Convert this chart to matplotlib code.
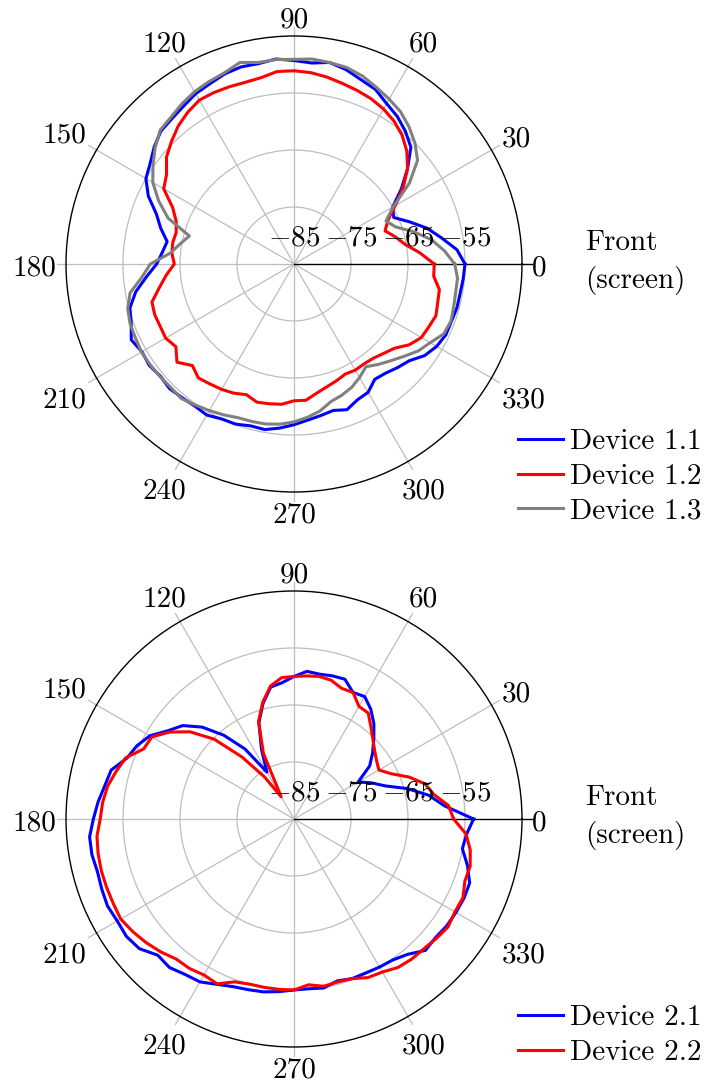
import numpy as np
import matplotlib
matplotlib.use("Agg")
import matplotlib.pyplot as plt
from matplotlib.transforms import ScaledTranslation

plt.rcParams["font.family"] = "cmr10"
plt.rcParams["mathtext.fontset"] = "cm"
plt.rcParams["axes.unicode_minus"] = False

# Measurement angles (degrees) shared by all series
angles = list(range(0, 360, 5))

# Received level (dB) per angle
device_1_1 = [-55.0, -56.3, -58.7, -60.8, -63.4, -65.7, -65.0, -62.0, -59.0, -56.0,
              -54.6, -53.4, -52.5, -51.2, -50.6, -49.7, -49.1, -49.6, -49.3, -48.9,
              -49.3, -49.2, -49.5, -50.1, -50.5, -51.2, -51.7, -52.0, -53.0, -54.2,
              -55.0, -56.8, -59.3, -60.8, -62.4, -61.8, -60.9, -59.0, -56.8, -55.2,
              -54.6, -53.5, -54.2, -54.0, -54.4, -54.1, -54.4, -54.6, -54.4, -55.0,
              -55.1, -55.6, -55.5, -56.1, -56.8, -57.5, -58.0, -58.4, -57.8, -58.7,
              -59.0, -60.3, -60.0, -59.3, -58.6, -57.0, -56.1, -55.6, -55.6, -55.4,
              -55.4, -55.2]
device_1_2 = [-60.4, -62.8, -65.2, -66.6, -68.0, -66.8, -64.5, -61.6, -59.0, -57.0,
              -55.5, -54.4, -53.6, -53.0, -52.6, -52.2, -51.7, -51.3, -51.1, -51.1,
              -51.8, -52.0, -51.9, -51.8, -51.8, -52.5, -53.4, -54.6, -55.8, -57.7,
              -58.6, -61.5, -63.0, -63.6, -63.4, -63.5, -64.0, -62.5, -61.0, -59.2,
              -59.0, -59.1, -59.0, -59.7, -58.2, -59.8, -58.9, -59.3, -59.6, -60.0,
              -60.6, -59.9, -60.1, -60.3, -61.0, -61.0, -62.0, -62.7, -63.2, -63.7,
              -63.5, -63.6, -63.4, -62.8, -62.0, -60.3, -59.2, -58.9, -58.5, -58.9,
              -59.1, -60.4]
device_1_3 = [-56.8, -58.5, -60.5, -63.2, -66.0, -67.2, -64.9, -60.3, -56.7, -55.0,
              -53.6, -52.4, -51.6, -50.8, -49.9, -49.3, -49.1, -48.9, -49.1, -49.0,
              -49.1, -48.4, -49.3, -49.7, -50.1, -50.7, -51.4, -51.8, -53.2, -54.8,
              -56.4, -58.8, -61.5, -66.0, -64.7, -63.2, -59.8, -58.2, -55.8, -54.8,
              -54.4, -54.3, -54.1, -54.2, -54.3, -54.4, -54.2, -54.8, -55.3, -55.8,
              -56.3, -56.4, -56.5, -56.8, -57.3, -58.0, -58.8, -60.0, -60.5, -61.1,
              -62.0, -63.0, -62.0, -61.0, -59.8, -58.4, -57.4, -56.0, -55.7, -56.0,
              -56.2, -56.2]
device_2_1 = [-53.5, -58.5, -61.0, -64.4, -68.0, -70.0, -72.0, -68.8, -67.0, -65.2,
              -63.2, -61.5, -60.2, -60.5, -58.9, -59.0, -59.2, -59.0, -60.0, -61.0,
              -61.5, -64.0, -67.0, -71.5, -75.5, -70.0, -65.8, -62.2, -59.5, -58.0,
              -55.8, -54.6, -53.8, -51.8, -51.3, -50.5, -49.8, -49.0, -49.0, -49.3,
              -49.1, -48.9, -49.2, -49.1, -49.6, -51.2, -51.0, -51.7, -52.0, -53.0,
              -53.7, -54.0, -54.2, -54.6, -55.0, -55.1, -54.9, -55.6, -55.2, -55.2,
              -55.0, -54.8, -54.0, -52.4, -52.6, -52.3, -52.2, -52.1, -52.2, -53.5,
              -55.0, -54.6]
device_2_2 = [-57.0, -57.8, -60.1, -61.2, -63.5, -66.2, -67.8, -67.3, -66.5, -65.4,
              -64.0, -62.3, -62.2, -60.5, -60.6, -59.8, -59.6, -59.8, -60.0, -60.1,
              -61.3, -63.8, -66.8, -72.3, -80.5, -76.0, -70.8, -65.2, -61.2, -58.4,
              -56.2, -55.9, -53.6, -52.7, -51.8, -51.3, -51.0, -50.3, -50.1, -50.0,
              -50.0, -50.0, -49.9, -50.5, -51.2, -52.0, -52.9, -53.0, -53.4, -53.1,
              -54.6, -55.0, -55.0, -55.0, -55.0, -55.8, -55.2, -55.4, -55.2, -54.3,
              -54.0, -53.2, -52.9, -52.8, -52.4, -52.0, -52.4, -52.3, -53.1, -53.0,
              -53.6, -54.7]

theta_ticks = list(range(0, 360, 30))
theta_labels = [str(a) for a in theta_ticks]
r_ticks = [-85, -75, -65, -55]
r_min, r_max = -85, -45

FS = 21
W, H = 704, 1085
fig = plt.figure(figsize=(W / 100, H / 100), dpi=100)
renderer = fig.canvas.get_renderer()


def closed(vals):
    th = np.deg2rad(np.array(angles + [angles[0]]))
    return th, np.array(vals + [vals[0]])


def angle_label(ax, deg, text, sep=10.0, half_digit=9.4):
    """Angle label as a padded box whose border, in the direction of the
    centre, touches the rim."""
    t = ax.text(np.deg2rad(deg), r_max, text, fontsize=FS, ha="center", va="baseline",
                clip_on=False)
    bb = t.get_window_extent(renderer)
    c, s = np.cos(np.deg2rad(deg)), np.sin(np.deg2rad(deg))
    hw, hh = bb.width / 2 + sep, half_digit + sep
    t_side = hw / abs(c) if abs(c) > 1e-6 else np.inf
    t_flat = hh / abs(s) if abs(s) > 1e-6 else np.inf
    d = min(t_side, t_flat)
    if t_flat < t_side and abs(c) > 0.1:
        d += 8.0
    dx, dy = d * c, d * s - half_digit - 1.7
    t.set_transform(ax.transData + ScaledTranslation(dx / 100, dy / 100, fig.dpi_scale_trans))


def make_axes(center_y, series, legend_top):
    rad = 228
    ax = fig.add_axes([(294 - rad) / W, (H - center_y - rad) / H, 2 * rad / W, 2 * rad / H],
                      projection="polar")
    ax.set_ylim(r_min, r_max)
    ax.set_yticks(r_ticks[1:])
    ax.set_yticklabels([])
    ax.yaxis.grid(True, color="#bdbdbd", lw=0.9)
    ax.xaxis.grid(False)
    ax.set_xticks(np.deg2rad(theta_ticks))
    ax.set_xticklabels([])
    ax.tick_params(axis="both", length=0)
    ax.spines["polar"].set_color("black")
    ax.spines["polar"].set_linewidth(1.0)

    # spokes every 30 degrees, running a little past the rim
    for a in theta_ticks[1:]:
        ax.plot([np.deg2rad(a)] * 2, [r_min, r_max + 1.6], color="#bdbdbd", lw=0.9,
                clip_on=False, zorder=1)
    ax.plot([0, 0], [r_min, r_max + 1.7], color="black", lw=1.0, clip_on=False, zorder=2)

    for a, lab in zip(theta_ticks, theta_labels):
        angle_label(ax, a, lab)

    for v in r_ticks:
        ax.annotate(r"$%d$" % v, xy=(0, v), xytext=(0, 9), textcoords="offset points",
                    ha="center", va="bottom", fontsize=FS, zorder=5)

    for label, vals, color in series:
        th, r = closed(vals)
        ax.plot(th, r, color=color, lw=2.2, label=label, zorder=3)

    ax.legend(loc="upper left", bbox_to_anchor=(518 / W, 1 - legend_top / H),
              bbox_transform=fig.transFigure, frameon=False, fontsize=FS,
              handlelength=1.55, handletextpad=0.25, labelspacing=0.28,
              borderpad=0, borderaxespad=0)

    fig.text(585 / W, 1 - (center_y - 34) / H, "Front\n(screen)", fontsize=FS,
             ha="left", va="top", linespacing=1.44)
    return ax


make_axes(264, [("Device 1.1", device_1_1, "#0000ff"),
                ("Device 1.2", device_1_2, "#ff0000"),
                ("Device 1.3", device_1_3, "#808080")], 429)
make_axes(819, [("Device 2.1", device_2_1, "#0000ff"),
                ("Device 2.2", device_2_2, "#ff0000")], 1005)

fig.savefig("out.png", dpi=100)
